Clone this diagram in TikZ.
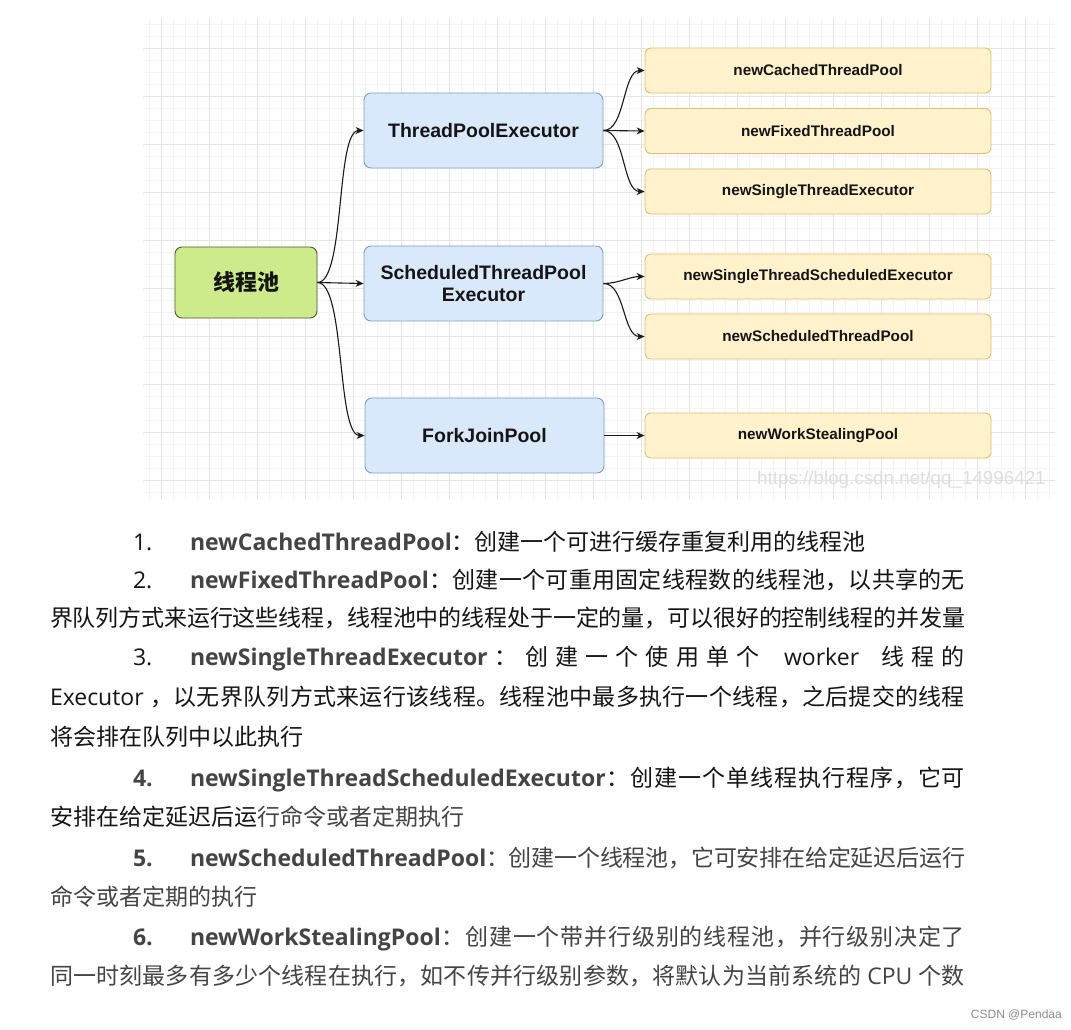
\documentclass[tikz,border=0pt]{standalone}
\usepackage{fontspec}
\setmainfont{Liberation Sans}
\newfontfamily\cjk{Noto Sans CJK SC}
\newfontfamily\osans{Open Sans}
\usetikzlibrary{arrows.meta}

\definecolor{gridminor}{HTML}{F4F4F4}
\definecolor{gridmajor}{HTML}{E4E4E4}
\definecolor{greenfill}{HTML}{CDEB8B}
\definecolor{greenline}{HTML}{4A5A3A}
\definecolor{bluefill}{HTML}{DAE8FC}
\definecolor{blueline}{HTML}{7E9CC8}
\definecolor{yelfill}{HTML}{FFF2CC}
\definecolor{yelline}{HTML}{DDC070}
\definecolor{tblack}{HTML}{151515}
\definecolor{tgray}{HTML}{444444}

\makeatletter
\newif\ifjfirst
\newcommand\jline[2]{\hbox to #1{\jfirsttrue\@tfor\jx:=#2\do{\ifjfirst\jfirstfalse\else\hskip 0pt plus 1fil minus 3pt\relax\fi\jx}}}
\makeatother
\newcommand\nb[1]{{\osans\bfseries\color{tgray}#1}}
\newcommand\nr[1]{{\osans #1}}

\tikzset{
  box/.style={rounded corners=7pt, inner sep=0pt, line width=0.9pt, text=tblack},
  rootbox/.style={box, fill=greenfill, draw=greenline, minimum width=142pt, minimum height=71pt,
                  font=\cjk\bfseries\fontsize{22}{22}\selectfont},
  bluebox/.style={box, fill=bluefill, draw=blueline, minimum width=239pt, minimum height=75pt,
                  font=\bfseries\fontsize{19.5}{22}\selectfont},
  ybox/.style={box, rounded corners=6pt, fill=yelfill, draw=yelline, minimum width=346pt, minimum height=45pt,
               font=\bfseries\fontsize{15.3}{17}\selectfont},
  conn/.style={draw=black!90, line width=1.1pt, -{Stealth[length=8pt,width=7pt]}},
  para/.style={anchor=base west, inner sep=0pt, outer sep=0pt, text=tblack,
               font=\cjk\fontsize{23}{23}\selectfont},
}

\begin{document}
\begin{tikzpicture}[x=1pt,y=-1pt]
\useasboundingbox (0,0) rectangle (1071,1029);
\fill[white] (0,0) rectangle (1071,1029);

% grid background
\foreach \x in {149,161,...,1055} \draw[gridminor, line width=0.6pt] (\x,18) -- (\x,499);
\foreach \y in {24,36,...,498} \draw[gridminor, line width=0.6pt] (143,\y) -- (1055,\y);
\foreach \x in {161,209,...,1055} \draw[gridmajor, line width=0.7pt] (\x,18) -- (\x,499);
\foreach \y in {48,96,...,498} \draw[gridmajor, line width=0.7pt] (143,\y) -- (1055,\y);

% nodes
\node[rootbox] (root) at (246,282.5) {线程池};
\node[bluebox] (tpe) at (483.5,130.5) {ThreadPoolExecutor};
\node[bluebox, align=center] (stp) at (483.5,283.5) {ScheduledThreadPool\\Executor};
\node[bluebox] (fjp) at (484.5,435.5) {ForkJoinPool};
\node[ybox] (c1) at (818,70.5) {newCachedThreadPool};
\node[ybox] (c2) at (818,131) {newFixedThreadPool};
\node[ybox] (c3) at (818,191.5) {newSingleThreadExecutor};
\node[ybox] (c4) at (818,276.5) {newSingleThreadScheduledExecutor};
\node[ybox] (c5) at (818,336.5) {newScheduledThreadPool};
\node[ybox] (c6) at (818,435.5) {newWorkStealingPool};

% connectors
\draw[conn] (root.east) .. controls +(28,0) and +(-28,0) .. (tpe.west);
\draw[conn] (root.east) -- (stp.west);
\draw[conn] (root.east) .. controls +(28,0) and +(-28,0) .. (fjp.west);
\draw[conn] (tpe.east) .. controls +(22,0) and +(-22,0) .. (c1.west);
\draw[conn] (tpe.east) -- (c2.west);
\draw[conn] (tpe.east) .. controls +(22,0) and +(-22,0) .. (c3.west);
\draw[conn] (stp.east) .. controls +(15,0) and +(-15,0) .. (c4.west);
\draw[conn] (stp.east) .. controls +(22,0) and +(-22,0) .. (c5.west);
\draw[conn] (fjp.east) -- (c6.west);

% faint watermark url
\node[anchor=base west, inner sep=0pt, text=black!13, font=\fontsize{18.8}{18.8}\selectfont] (url) at (757,484) {https://blog.csdn.net/qq\_14996421};

% text lines
\node[para] (l1) at (133,550) {\makebox[57pt][l]{\nr{1.}}\nb{newCachedThreadPool}：创建一个可进行缓存重复利用的线程池};
\node[para] (l2) at (133,588.5) {\makebox[57pt][l]{\nr{2.}}\jline{775pt}{{\nb{newFixedThreadPool}}：创建一个可重用固定线程数的线程池，以共享的无}};
\node[para] (l3) at (50,626) {\jline{915pt}{界队列方式来运行这些线程，线程池中的线程处于一定的量，可以很好的控制线程的并发量}};
\node[para] (l4) at (133,665.5) {\makebox[57pt][l]{\nr{3.}}\jline{775pt}{{\nb{newSingleThreadExecutor}}：创建一个使用单个{\hskip 10pt\relax}{\nr{worker}}{\hskip 8pt\relax}线程的}};
\node[para] (l5) at (50,705) {\jline{915pt}{{\nr{Executor}}{\hskip 6pt\relax}，以无界队列方式来运行该线程。线程池中最多执行一个线程，之后提交的线程}};
\node[para] (l6) at (50,745.5) {将会排在队列中以此执行};
\node[para] (l7) at (133,786) {\makebox[57pt][l]{\nb{4.}}\jline{775pt}{{\nb{newSingleThreadScheduledExecutor}}：创建一个单线程执行程序，它可}};
\node[para] (l8) at (50,825.5) {安排在给定延迟后运{\color{tgray}行命令或者定期执行}};
\node[para, text=tgray] (l9) at (133,866) {\makebox[57pt][l]{\nb{5.}}\jline{775pt}{{\nb{newScheduledThreadPool}}：创建一个线程池，它可安排在给定延迟后运行}};
\node[para, text=tgray] (l10) at (50,905.5) {命令或者定期的执行};
\node[para, text=tgray] (l11) at (133,945) {\makebox[57pt][l]{\nb{6.}}\jline{775pt}{{\nb{newWorkStealingPool}}：创建一个带并行级别的线程池，并行级别决定了}};
\node[para, text=tgray] (l12) at (50,984) {\jline{915pt}{同一时刻最多有多少个线程在执行，如不传并行级别参数，将默认为当前系统的{\hskip 6pt\relax}{\nr{CPU}}{\hskip 6pt\relax}个数}};

% credit
\node[anchor=base east, inner sep=0pt, text=black!45, font=\fontsize{12}{12}\selectfont] (credit) at (1062,1018) {CSDN @Pendaa};
\end{tikzpicture}
\end{document}
